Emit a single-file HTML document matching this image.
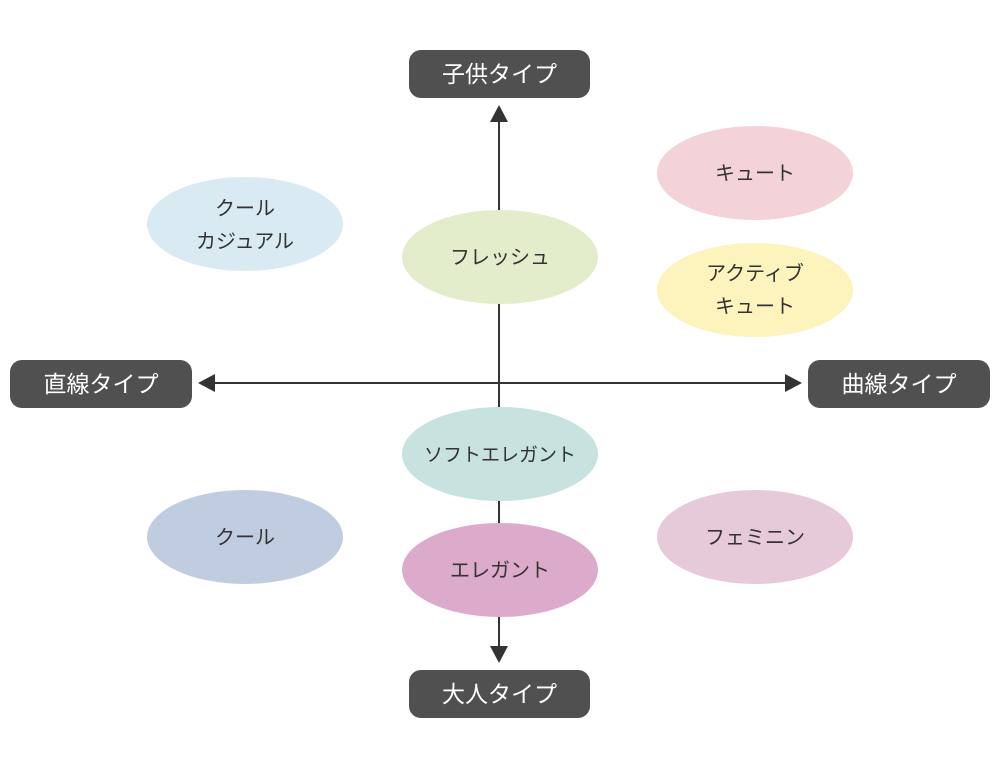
<!DOCTYPE html>
<html><head><meta charset="utf-8"><style>
body{margin:0;background:#fff;}
svg text{font-family:"Liberation Sans","Noto Sans CJK JP",sans-serif;}
</style></head><body>
<svg width="1000" height="778" viewBox="0 0 1000 778" xmlns="http://www.w3.org/2000/svg">
<g stroke="#333" stroke-width="2">
<line x1="499" y1="118" x2="499" y2="650"/>
<line x1="212" y1="383" x2="790" y2="383"/>
</g>
<g fill="#333">
<polygon points="499,105 490,122 508,122"/>
<polygon points="499,663 490,646 508,646"/>
<polygon points="198,383 215,374 215,392"/>
<polygon points="802,383 785,374 785,392"/>
</g>
<g>
<ellipse cx="245" cy="224" rx="98" ry="47" fill="#d9eaf3"/>
<ellipse cx="500" cy="257" rx="98" ry="47" fill="#e3eccb"/>
<ellipse cx="755" cy="173" rx="98" ry="47" fill="#f3d3d8"/>
<ellipse cx="755" cy="290" rx="98" ry="47" fill="#fcf3bd"/>
<ellipse cx="500" cy="454" rx="98" ry="47" fill="#c7e2df"/>
<ellipse cx="245" cy="537" rx="98" ry="47" fill="#c0cde0"/>
<ellipse cx="500" cy="570" rx="98" ry="47" fill="#dcaaca"/>
<ellipse cx="755" cy="537" rx="98" ry="47" fill="#e6cad9"/>
</g>
<g fill="#333" font-size="20" text-anchor="middle">
<text x="245" y="215">クール</text>
<text x="245" y="248">カジュアル</text>
<text x="500" y="264">フレッシュ</text>
<text x="755" y="180">キュート</text>
<text x="755" y="280">アクティブ</text>
<text x="755" y="313">キュート</text>
<text x="500" y="461" font-size="19">ソフトエレガント</text>
<text x="245" y="544">クール</text>
<text x="500" y="577">エレガント</text>
<text x="755" y="544">フェミニン</text>
</g>
<g fill="#505050">
<rect x="409" y="50" width="181" height="48" rx="12"/>
<rect x="409" y="670" width="181" height="48" rx="12"/>
<rect x="10" y="360" width="182" height="48" rx="12"/>
<rect x="808" y="360" width="182" height="48" rx="12"/>
</g>
<g fill="#fff" font-size="23" text-anchor="middle">
<text x="499.5" y="82">子供タイプ</text>
<text x="499.5" y="702">大人タイプ</text>
<text x="101" y="392">直線タイプ</text>
<text x="899" y="392">曲線タイプ</text>
</g>
</svg>
</body></html>
